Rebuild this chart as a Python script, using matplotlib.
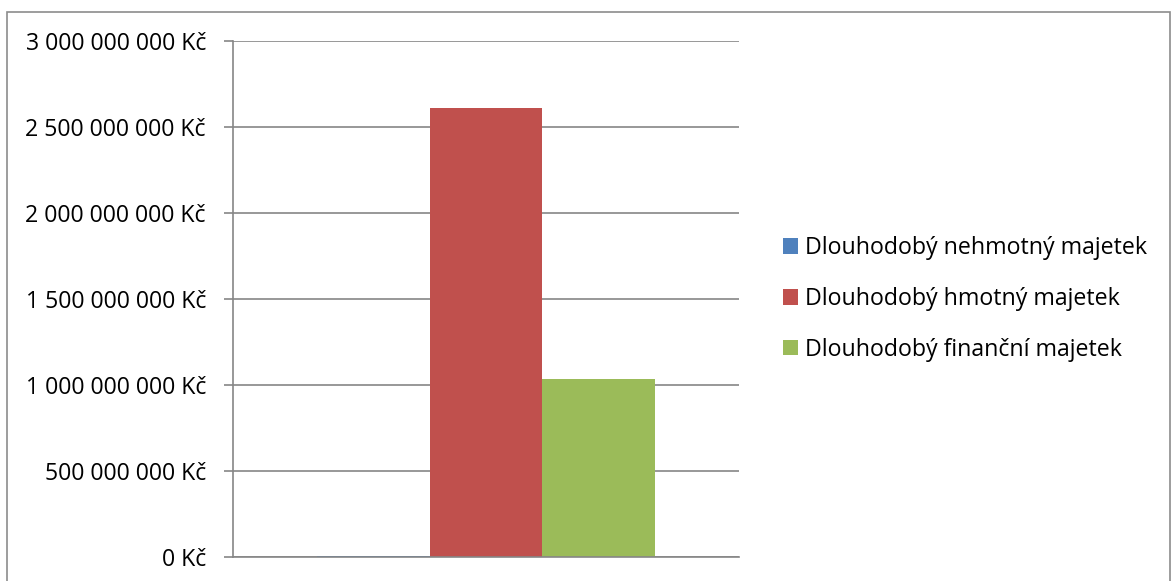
import numpy as np
from matplotlib import pyplot as plt
from matplotlib.patches import Rectangle, Patch
from matplotlib.ticker import FuncFormatter, MultipleLocator
import matplotlib as mpl

mpl.rcParams['font.family'] = ['Open Sans', 'DejaVu Sans']

series = ['Dlouhodobý nehmotný majetek', 'Dlouhodobý hmotný majetek', 'Dlouhodobý finanční majetek']
values = [4500000, 2610000000, 1035000000]
colors = ['#4f81bd', '#c0504d', '#9bbb59']

fig = plt.figure(figsize=(11.74, 5.81), dpi=100)
ax = fig.add_axes([233/1174, 24/581, 506/1174, 516/581])

# outer chart frame (bottom edge cut off in the reference)
fig.patches.append(Rectangle((7/1174, -0.1), 1163/1174, 1.1 - 12/581,
                             transform=fig.transFigure, fill=False,
                             edgecolor='#8c8c8c', linewidth=1.2))

w = 1/4.5
xs = (np.arange(len(values)) - 1) * w
for x, v, c in zip(xs, values, colors):
    ax.bar(x, v, width=w, color=c, zorder=3)

ax.set_xlim(-0.5, 0.5)
ax.set_ylim(0, 3e9)
ax.yaxis.set_major_locator(MultipleLocator(5e8))
ax.yaxis.set_major_formatter(FuncFormatter(lambda v, p: '{:,.0f} Kč'.format(v).replace(',', ' ')))
ax.grid(axis='y', color='#868686', linewidth=1.2, zorder=0)

ax.set_xticks([])
for s in ['top', 'right']:
    ax.spines[s].set_visible(False)
for s in ['left', 'bottom']:
    ax.spines[s].set_color('#868686')
    ax.spines[s].set_linewidth(1.2)
    ax.spines[s].set_zorder(4)
ax.tick_params(axis='y', color='#868686', width=1.2, length=6.5, labelsize=16.7, pad=13)

handles = [Patch(facecolor=c, label=s) for s, c in zip(series, colors)]
fig.legend(handles=handles, loc='center left', bbox_to_anchor=(762/1174, 1 - 299/581),
           frameon=False, fontsize=16.7, handlelength=0.65, handleheight=0.65,
           handletextpad=0.3, labelspacing=1.15)

plt.savefig('out.png', dpi=100)
plt.close()
